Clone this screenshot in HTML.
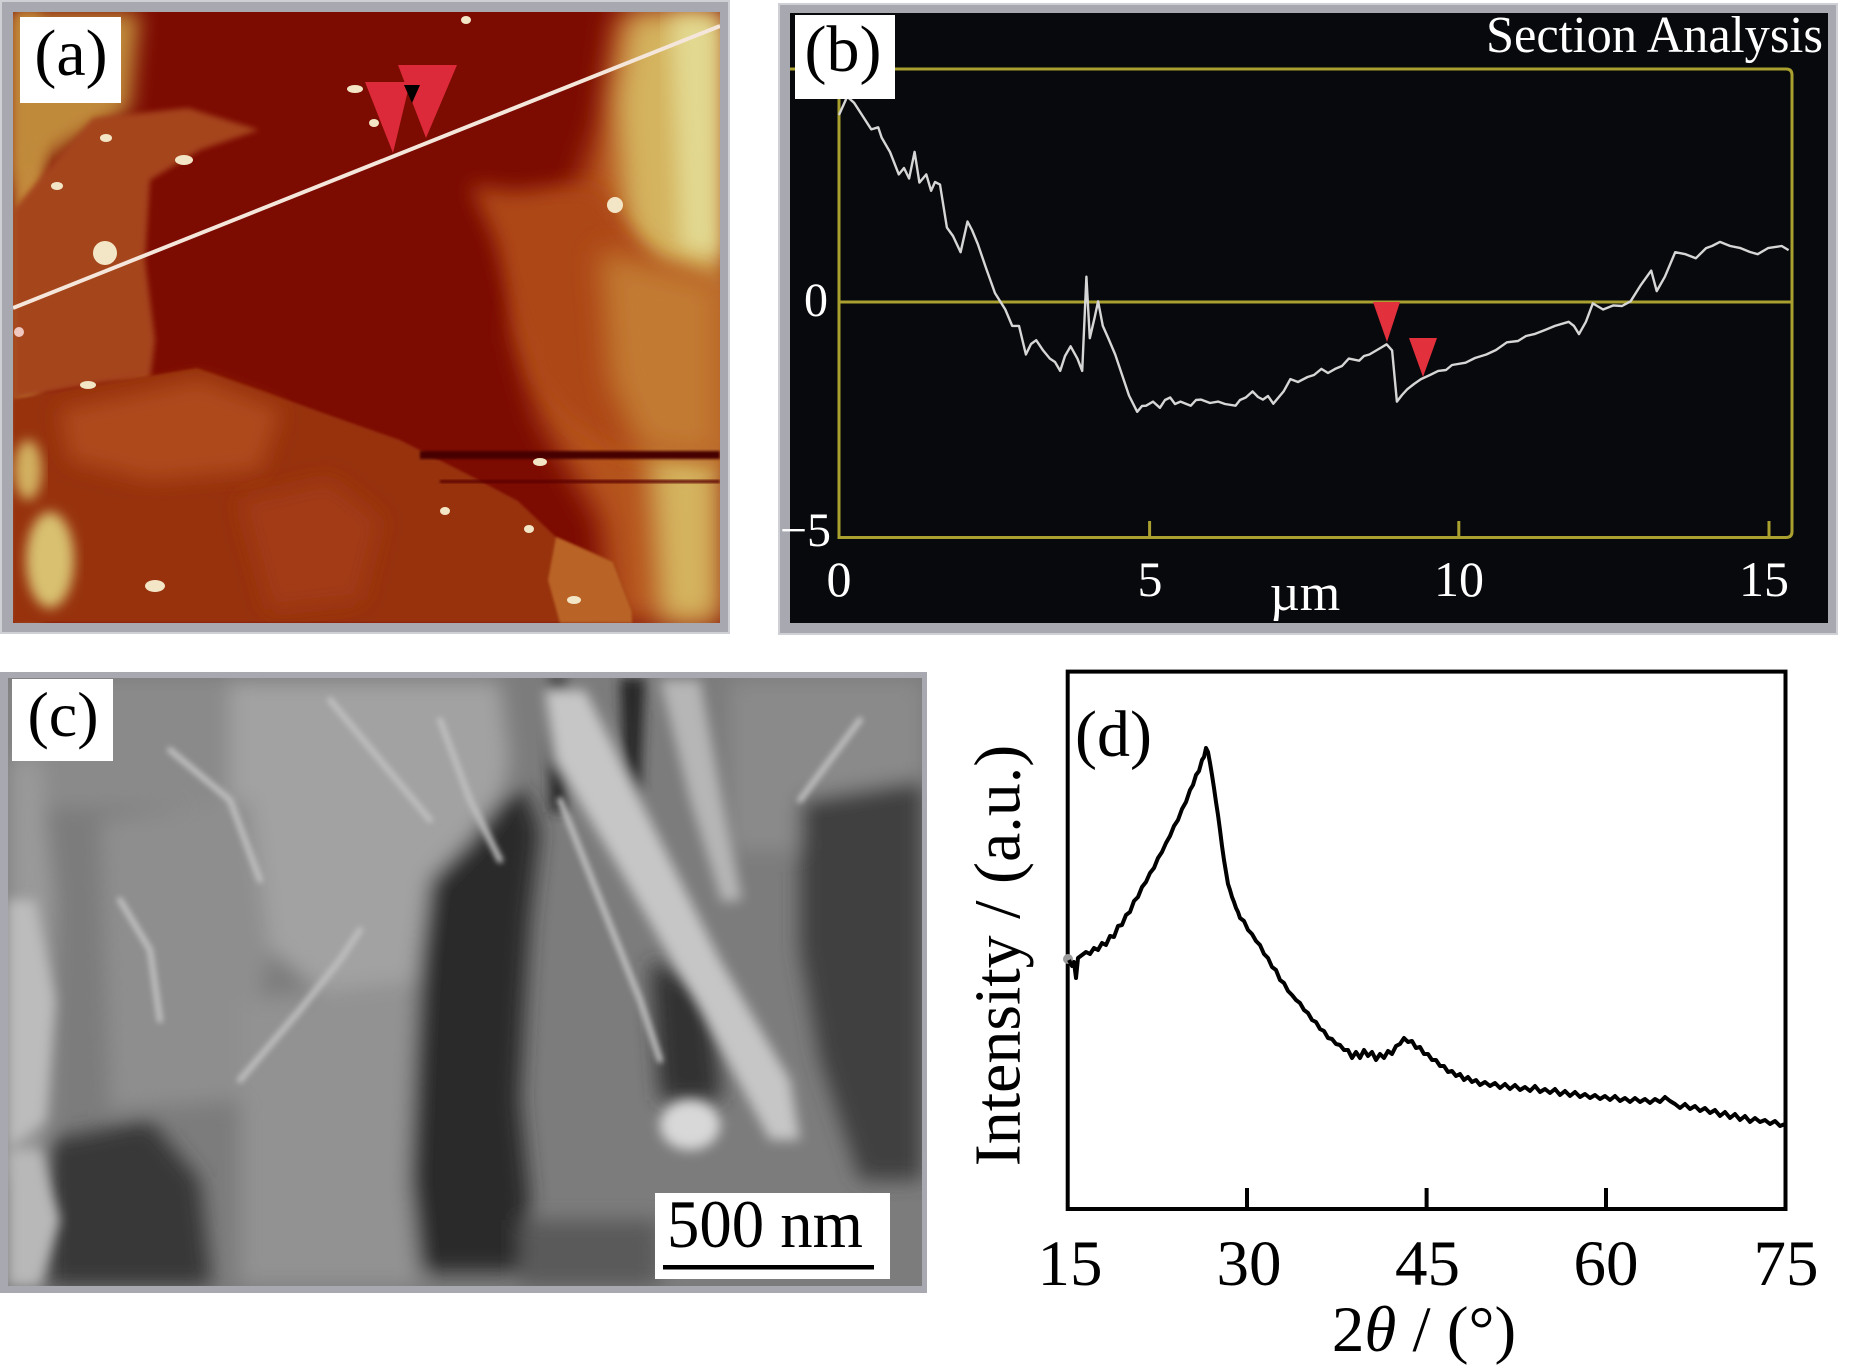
<!DOCTYPE html>
<html>
<head>
<meta charset="utf-8">
<style>
  html,body{margin:0;padding:0;background:#fff;}
  svg{display:block;}
  text{font-family:"Liberation Serif","Times New Roman",serif;}
</style>
</head>
<body>
<svg width="1855" height="1368" viewBox="0 0 1855 1368" xmlns="http://www.w3.org/2000/svg">
  <defs>
    <clipPath id="clipA"><rect x="13" y="12" width="707" height="611"/></clipPath>
    <clipPath id="clipC"><rect x="8" y="678" width="914" height="608"/></clipPath>
    <filter id="b14" x="-30%" y="-30%" width="160%" height="160%"><feGaussianBlur stdDeviation="14"/></filter>
    <filter id="b10" x="-20%" y="-20%" width="140%" height="140%"><feGaussianBlur stdDeviation="10"/></filter>
    <filter id="b6" x="-20%" y="-20%" width="140%" height="140%"><feGaussianBlur stdDeviation="6"/></filter>
    <filter id="b3" x="-20%" y="-20%" width="140%" height="140%"><feGaussianBlur stdDeviation="3"/></filter>
    <filter id="b1" x="-20%" y="-20%" width="140%" height="140%"><feGaussianBlur stdDeviation="1.2"/></filter>
  </defs>

  <rect x="0" y="0" width="1855" height="1368" fill="#ffffff"/>

  <!-- ================= PANEL (a) ================= -->
  <rect x="0" y="0" width="730" height="634" fill="#a8a8b1"/>
  <rect x="1" y="1" width="728" height="632" fill="none" stroke="#cfcfd6" stroke-width="2"/>
  <g clip-path="url(#clipA)">
    <rect x="13" y="12" width="707" height="611" fill="#7c0b02"/>
    <!-- right orange / yellow -->
    <polygon filter="url(#b14)" fill="#b5521a" points="615,12 720,12 720,623 610,623 600,520 570,470 540,420 515,330 530,250 575,195 600,120"/>
    <polygon filter="url(#b14)" fill="#d4b45e" points="630,12 720,12 720,623 660,623 652,500 645,400 635,300 622,200 615,100"/>
    <polygon filter="url(#b10)" fill="#e2d890" points="670,15 720,15 720,260 680,250"/>
    <!-- left edge yellow strip -->
    <polygon filter="url(#b6)" fill="#c48a3c" points="13,12 40,12 45,200 38,400 42,623 13,623"/>
    <!-- top-left corner behind label -->
    <polygon filter="url(#b10)" fill="#c08a3a" points="13,12 140,12 130,110 60,150 13,190"/>
    <!-- left flake -->
    <polygon filter="url(#b3)" fill="#a5451a" points="13,210 46,171 93,118 188,108 259,130 200,150 150,180 145,260 155,340 150,380 107,383 13,399"/>
    <!-- middle-right orange region below upper boundary -->
    <polygon filter="url(#b10)" fill="#ad4714" points="470,185 514,191 566,185 599,187 627,228 660,260 720,281 720,460 620,450 570,420 535,380 510,300 495,240"/>
    <polygon filter="url(#b14)" fill="#c27a30" points="600,250 720,281 720,460 640,450 610,380"/>
    <!-- lower flake -->
    <polygon filter="url(#b1)" fill="#97300e" points="13,399 107,383 197,368 263,391 329,415 400,440 471,476 518,501 556,537 613,562 632,611 632,623 13,623"/>
    <polygon filter="url(#b10)" fill="#ae4a1a" points="60,410 200,380 280,410 260,470 150,480 70,460"/>
    <polygon filter="url(#b10)" fill="#a23a12" points="240,500 330,480 380,520 360,600 270,610"/>
    <ellipse filter="url(#b6)" cx="50" cy="560" rx="24" ry="48" fill="#d8c070"/>
    <ellipse filter="url(#b6)" cx="28" cy="470" rx="14" ry="30" fill="#d2b060"/>
    <!-- lower right corner flake -->
    <polygon filter="url(#b1)" fill="#b96428" points="556,537 613,562 632,611 632,623 560,623 548,580"/>
    <!-- dark streaks -->
    <rect filter="url(#b1)" x="420" y="451" width="300" height="8" fill="#470000"/>
    <rect filter="url(#b1)" x="440" y="480" width="280" height="3" fill="#5a0400"/>
    <!-- bright spots -->
    <g fill="#f3e6c6">
      <ellipse cx="355" cy="89" rx="8" ry="4"/>
      <ellipse cx="374" cy="123" rx="5" ry="4"/>
      <ellipse cx="184" cy="160" rx="9" ry="5"/>
      <ellipse cx="106" cy="138" rx="6" ry="4"/>
      <ellipse cx="57" cy="186" rx="6" ry="4"/>
      <ellipse cx="105" cy="253" rx="12" ry="12"/>
      <ellipse cx="466" cy="20" rx="5" ry="4"/>
      <ellipse cx="615" cy="205" rx="8" ry="8"/>
      <ellipse cx="540" cy="462" rx="7" ry="4"/>
      <ellipse cx="445" cy="511" rx="5" ry="4"/>
      <ellipse cx="529" cy="529" rx="5" ry="4"/>
      <ellipse cx="155" cy="586" rx="10" ry="6"/>
      <ellipse cx="574" cy="600" rx="7" ry="4"/>
      <ellipse cx="88" cy="385" rx="8" ry="4"/>
      <ellipse cx="19" cy="332" rx="5" ry="5" fill="#f0c8c0"/>
    </g>
    <!-- section line -->
    <line x1="13" y1="308" x2="720" y2="26" stroke="#f4e6da" stroke-width="4"/>
    <!-- red triangles -->
    <polygon fill="#dc2a3a" points="365,82 410,82 393,153"/>
    <polygon fill="#dc2a3a" points="398,65 457,65 426,138"/>
    <polygon fill="#000000" points="404,85 420,85 412,103"/>
  </g>
  <rect x="20" y="17" width="101" height="86" fill="#ffffff"/>
  <text x="71" y="75" font-size="66" text-anchor="middle" fill="#000">(a)</text>

  <!-- ================= PANEL (b) ================= -->
  <rect x="778" y="3" width="1060" height="632" fill="#a8a8b1"/>
  <rect x="779" y="4" width="1058" height="630" fill="none" stroke="#cfcfd6" stroke-width="2"/>
  <rect x="790" y="13" width="1038" height="610" fill="#08090c"/>
  <g stroke="#a9a030" stroke-width="3" fill="none">
    <line x1="790" y1="69" x2="1786" y2="69"/>
    <path d="M839,69 L839,537.5 L1786,537.5 Q1792,537.5 1792,531.5 L1792,75 Q1792,69 1786,69"/>
    <line x1="839" y1="302" x2="1792" y2="302"/>
    <line x1="1149.6" y1="521" x2="1149.6" y2="537"/>
    <line x1="1458.8" y1="521" x2="1458.8" y2="537"/>
    <line x1="1769" y1="521" x2="1769" y2="537"/>
  </g>
  <polyline fill="none" stroke="#d6d6d6" stroke-width="2.4" stroke-linejoin="round" points="
839,115 847.2,96.6 854.1,102.8 862,115 871.3,129.4 878.2,127.3 881.6,137.5 890,152 898.8,174.4 904,168 909.1,178.5 914.6,151.9 919.4,182.6 926.3,174.4 931.1,190.8 935,182 940,184.6 946.9,227.6 953,236 960.6,252.2 967.5,221.5 972,230 977.8,244 986,268 995,293.1 1005.3,309.5 1012.2,325.9 1019,325.9 1025.9,354.5 1031,344 1036.2,340.2 1043.1,350.4 1049.9,358.6 1055,362 1060.2,370.9 1065,356 1070.6,346.3 1077.4,358.6 1082.2,370.9 1086.4,276.7 1089.8,338.2 1094.6,317.7 1098.1,301.3 1102.8,325.9 1108.3,338.2 1115.2,354.5 1122.1,375 1129,395.5 1137.2,411.8 1142,406 1146.1,405.7 1153,401.6 1159.9,407.8 1165,400 1170.2,397.5 1175,404 1180.5,401.6 1190.8,405.7 1196,400 1201.1,399.6 1210,403 1218.3,401.6 1225,404 1235.5,405.7 1240,400 1245.8,397.5 1252.6,391.4 1258,397 1262.9,399.6 1268,396 1273.3,403.7 1283.6,391.4 1290.4,379.1 1298,382 1307.6,377 1314,375 1321.4,368.9 1328,373 1335.1,368.9 1342,366 1348.8,358.6 1359.1,360.7 1364,356 1369.4,354.5 1379.8,348.4 1386.6,344.3 1392.1,350.4 1396.9,401.6 1402,395 1407.2,389.3 1414,384 1421,379.1 1430,375 1438.2,370.9 1446,370 1452,365 1465.6,362.7 1475,358 1486.3,354.5 1496,350 1506.9,342.3 1518,341 1526,336 1534.4,334.1 1545,330 1555,325.9 1568.7,321.8 1574,326 1579,334.1 1585.9,321.8 1592.8,303.4 1603.1,309.5 1613.4,305.4 1622,306 1630.6,301.3 1640.9,284.9 1651.2,270.6 1656.7,291.1 1664.9,276.7 1675.2,252.2 1685.5,254.2 1695.8,258.3 1706.1,248.1 1712,246 1719.9,241.9 1730.2,246 1740.5,248.1 1750,252 1757.7,254.2 1768,248.1 1781.7,246 1788.6,250.1"/>
  <polygon fill="#e2303c" points="1373,302 1400,302 1387,342"/>
  <polygon fill="#e2303c" points="1409,338 1437,338 1423,377"/>
  <rect x="795" y="15" width="100" height="84" fill="#ffffff"/>
  <text x="843" y="71" font-size="66" text-anchor="middle" fill="#000">(b)</text>
  <text x="1486" y="52" font-size="52" textLength="337" lengthAdjust="spacingAndGlyphs" fill="#ffffff">Section Analysis</text>
  <g fill="#ffffff" font-size="50" text-anchor="middle">
    <text x="839" y="596">0</text>
    <text x="1150" y="596">5</text>
    <text x="1459" y="596">10</text>
    <text x="1764" y="596">15</text>
    <text x="1305" y="610" font-size="52">µm</text>
    <text x="816" y="316" font-size="48">0</text>
  </g>
  <text x="831" y="546" font-size="48" text-anchor="end" fill="#ffffff">−5</text>

  <!-- ================= PANEL (c) ================= -->
  <rect x="0" y="672" width="927" height="621" fill="#a8a8b1"/>
  <g clip-path="url(#clipC)">
    <rect x="8" y="678" width="914" height="608" fill="#7c7c7c"/>
    <g filter="url(#b10)">
      <rect x="8" y="678" width="230" height="130" fill="#8a8a8a"/>
      <polygon fill="#a2a2a2" points="230,681 500,681 510,760 490,850 470,950 400,1000 330,1000 270,950 230,850"/>
      <polygon fill="#8e8e8e" points="100,820 250,800 270,950 240,1100 110,1110"/>
      <polygon fill="#929292" points="240,1000 420,980 420,1286 240,1286"/>
      <polygon fill="#9a9a9a" points="8,760 40,760 55,900 50,1100 40,1180 8,1180"/>
      <rect x="730" y="680" width="192" height="170" fill="#8a8a8a"/>
      <polygon fill="#2a2a2a" points="430,880 470,840 500,800 525,790 540,830 530,920 525,1000 520,1100 530,1200 520,1272 420,1272 410,1180 415,1060 420,960"/>
      <polygon fill="#404040" points="800,800 922,780 922,1180 860,1180 820,1060 800,950"/>
      <polygon fill="#333333" points="650,960 710,990 722,1100 660,1100"/>
      <polygon fill="#383838" points="48,1140 150,1120 200,1180 212,1286 48,1286"/>
      <polygon fill="#5a5a5a" points="520,1220 660,1220 660,1286 520,1286"/>
    </g>
    <g filter="url(#b6)">
      <polygon fill="#bcbcbc" points="8,900 35,900 55,1000 45,1120 8,1150"/>
      <polygon fill="#262626" points="548,678 568,678 568,812 550,812"/>
      <polygon fill="#262626" points="620,678 645,678 640,800 625,800"/>
      <polygon fill="#c6c6c6" points="545,690 585,690 650,820 720,960 790,1080 800,1140 770,1140 700,1010 620,870 555,760"/>
      <polygon fill="#b6b6b6" points="660,680 700,680 722,800 742,900 722,902 690,800"/>
      <ellipse cx="690" cy="1125" rx="30" ry="25" fill="#d8d8d8"/>
      <polygon fill="#b8b8b8" points="8,1150 40,1150 60,1220 40,1286 8,1286"/>
    </g>
    <g stroke="#c0c0c0" stroke-width="6" fill="none" filter="url(#b3)" stroke-linecap="round">
      <polyline points="240,1080 300,1010 340,960 360,930"/>
      <polyline points="170,750 230,800 260,880"/>
      <polyline points="330,700 380,760 430,820"/>
      <polyline points="440,720 470,800 500,860"/>
      <polyline points="860,720 830,760 800,800"/>
      <polyline points="560,800 600,900 640,1000 660,1060"/>
      <polyline points="120,900 150,950 160,1020"/>
    </g>
  </g>
  <rect x="12" y="679" width="101" height="82" fill="#ffffff"/>
  <text x="63" y="736" font-size="64" text-anchor="middle" fill="#000">(c)</text>
  <rect x="655" y="1193" width="235" height="86" fill="#ffffff"/>
  <text x="667" y="1247" font-size="68" textLength="196" lengthAdjust="spacingAndGlyphs" fill="#000">500 nm</text>
  <rect x="663" y="1265" width="211" height="4.5" fill="#000"/>

  <!-- ================= PANEL (d) ================= -->
  <rect x="1067.7" y="671.6" width="717.8" height="537.4" fill="none" stroke="#000" stroke-width="4"/>
  <g stroke="#000" stroke-width="4">
    <line x1="1247" y1="1188" x2="1247" y2="1209"/>
    <line x1="1426.6" y1="1188" x2="1426.6" y2="1209"/>
    <line x1="1606" y1="1188" x2="1606" y2="1209"/>
  </g>
  <circle cx="1068" cy="959" r="5" fill="#9a9a9a"/>
  <polyline fill="none" stroke="#000" stroke-width="4" stroke-linejoin="round" points="
1069,960 1072,966 1074,962 1076,978 1078,958 1082,955 1086,952 1090,954 1094,948 1098,950 1102,943 1106,945 1110,936 1114,937 1118,926 1122,925 1126,915 1130,912 1134,901 1138,897 1142,887 1146,882 1150,873 1154,868 1158,858 1162,852 1166,843 1170,836 1174,826 1178,820 1182,809 1186,802 1190,790 1193,785 1196,775 1199,771 1202,760 1204,757 1206,748 1208,752
1210,763 1212,775 1214,788 1216,802 1218,815 1220,830 1222,846 1224,860 1226,872 1228,884 1230,890 1232,897 1234,902 1236,908 1238,912 1240,918 1244,921 1248,930 1252,934 1256,941 1260,945 1264,954 1268,958 1272,967 1276,970 1280,980 1284,983 1288,991 1292,995 1296,1000 1300,1003 1304,1010 1308,1013 1312,1020 1316,1022 1320,1029 1324,1031 1328,1038 1332,1039 1336,1044 1340,1045 1344,1050 1348,1050 1352,1058 1356,1052 1360,1058 1364,1050 1368,1056 1372,1052 1376,1060 1380,1054 1384,1058 1388,1051 1392,1054 1396,1046 1400,1044 1404,1038 1408,1042 1412,1041 1416,1048 1420,1047 1424,1054 1428,1054 1432,1060 1436,1060 1440,1066 1444,1066 1448,1072 1452,1071 1456,1076 1460,1074 1464,1080 1468,1077 1472,1082 1476,1080 1480,1085 1485,1082 1490,1086 1495,1083 1500,1088 1505,1084 1510,1089 1515,1085 1520,1090 1525,1087 1530,1091 1535,1086 1540,1092 1545,1089 1550,1093 1555,1089 1560,1095 1565,1091 1570,1096 1575,1092 1580,1097 1585,1094 1590,1098 1595,1095 1600,1099 1605,1096 1610,1100 1615,1096 1620,1101 1625,1098 1630,1102 1635,1098 1640,1102 1645,1099 1650,1103 1655,1099 1660,1102 1665,1097 1670,1101 1675,1104 1680,1108 1685,1104 1690,1109 1695,1106 1700,1111 1705,1108 1710,1113 1715,1110 1720,1116 1725,1112 1730,1118 1735,1114 1740,1120 1745,1116 1750,1122 1755,1118 1760,1122 1765,1120 1770,1124 1775,1121 1780,1126 1785,1124"/>
  <text x="1075" y="756" font-size="66" fill="#000">(d)</text>
  <g font-size="65" text-anchor="middle" fill="#000">
    <text x="1070" y="1285">15</text>
    <text x="1249" y="1285">30</text>
    <text x="1427.5" y="1285">45</text>
    <text x="1606" y="1285">60</text>
    <text x="1786" y="1285">75</text>
  </g>
  <text x="1424" y="1351" font-size="65" text-anchor="middle" fill="#000">2<tspan font-style="italic">θ</tspan> / (°)</text>
  <text transform="translate(1019.5,955.5) rotate(-90)" font-size="66" text-anchor="middle" fill="#000">Intensity / (a.u.)</text>
</svg>
</body>
</html>
